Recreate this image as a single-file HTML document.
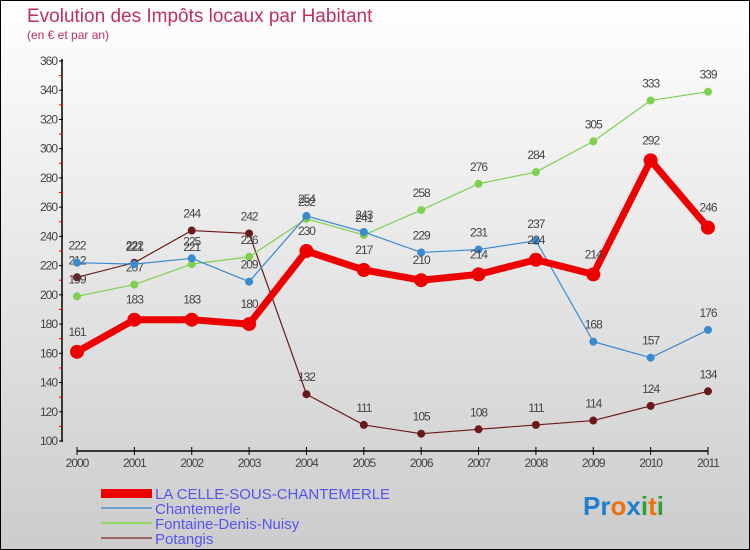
<!DOCTYPE html>
<html><head><meta charset="utf-8"><style>
body{margin:0}
#c{width:748px;height:548px;border:1px solid #000;background:linear-gradient(#fff,#ccc);position:relative;overflow:hidden;font-family:"Liberation Sans",sans-serif}
</style></head><body>
<div id="c">
<svg width="748" height="548" id="s">
<text x="26" y="21" font-size="19" fill="#c0305a">Evolution des Impôts locaux par Habitant</text>
<text x="26" y="38" font-size="12" fill="#c0305a">(en € et par an)</text>
<g id="ax"></g><g id="ser"></g>
<g font-size="15" fill="#5555ee">
<rect x="100" y="488" width="51" height="9" fill="#e00"/>
<text x="154" y="498">LA CELLE-SOUS-CHANTEMERLE</text>
<line x1="100" y1="507" x2="151" y2="507" stroke="#6aa0d0" stroke-width="2"/>
<text x="154" y="513">Chantemerle</text>
<line x1="100" y1="522" x2="151" y2="522" stroke="#90d860" stroke-width="2"/>
<text x="154" y="528">Fontaine-Denis-Nuisy</text>
<line x1="100" y1="537" x2="151" y2="537" stroke="#996666" stroke-width="2"/>
<text x="154" y="543">Potangis</text>
</g>
<text x="582" y="514" font-size="26" font-weight="bold"><tspan fill="#1e7fd0">Pr</tspan><tspan fill="#f07010">o</tspan><tspan fill="#1e7fd0">x</tspan><tspan fill="#30a030">i</tspan><tspan fill="#f07010">t</tspan><tspan fill="#30a030">i</tspan></text>
</svg></div>
<script>
const years=["2000","2001","2002","2003","2004","2005","2006","2007","2008","2009","2010","2011"];
const yTicks=[100,120,140,160,180,200,220,240,260,280,300,320,340,360];
const celle=[161,183,183,180,230,217,210,214,224,214,292,246];
const chantemerle=[222,221,225,209,254,243,229,231,237,168,157,176];
const fontaine=[199,207,221,226,252,241,258,276,284,305,333,339];
const potangis=[212,222,244,242,132,111,105,108,111,114,124,134];
const NS="http://www.w3.org/2000/svg";
const X=i=>76+i*(707-76)/11;
const Y=v=>440-(v-100)*(380/260);
function mk(t,a,p){const e=document.createElementNS(NS,t);for(const k in a)e.setAttribute(k,a[k]);p.appendChild(e);return e;}
const ax=document.getElementById('ax');
const l1=mk('line',{x1:61,y1:58,x2:61,y2:441,stroke:'#000','stroke-width':1.5},ax);


const l2=mk('line',{x1:76,y1:450,x2:707,y2:450,stroke:'#000','stroke-width':1.5},ax);


yTicks.forEach((v,i)=>{
 mk('line',{x1:58,y1:Y(v),x2:62,y2:Y(v),stroke:'#000'},ax);
 if(i<yTicks.length-1)mk('line',{x1:58,y1:Y(v+10),x2:62,y2:Y(v+10),stroke:'#e00'},ax);
 const t=mk('text',{x:56,y:Y(v)+4,'text-anchor':'end','font-size':12,fill:'#444','letter-spacing':'-1'},ax);
 t.textContent=v;
 
 
});
years.forEach((y,i)=>{
 mk('line',{x1:X(i),y1:446,x2:X(i),y2:454,stroke:'#000'},ax);
 const t=mk('text',{x:X(i),y:466,'text-anchor':'middle','font-size':12,fill:'#444','letter-spacing':'-1'},ax);
 t.textContent=y;
 
 
});
const ser=document.getElementById('ser');
function draw(d,col,w,r,name){
 const g=mk('g',{},ser);
 
 
 const p=mk('polyline',{points:d.map((v,i)=>X(i)+','+Y(v)).join(' '),fill:'none',stroke:col,'stroke-width':w,'stroke-linejoin':'round'},g);
 
 
 d.forEach((v,i)=>{
  const c=mk('circle',{cx:X(i),cy:Y(v),r:r,fill:col},g);
  
  
  const t=mk('text',{x:X(i),y:Y(v)-9-r,'text-anchor':'middle','font-size':12,fill:'#444','letter-spacing':'-1'},g);
  t.textContent=v;
  
  
 });
}
draw(potangis,'#6b1a1a',1.2,4,'potangis');
draw(fontaine,'#80d050',1.2,4,'fontaine');
draw(chantemerle,'#3a8ad0',1.2,4,'chantemerle');
draw(celle,'#ee0000',7,7,'la-celle');
</script>
</body></html>
